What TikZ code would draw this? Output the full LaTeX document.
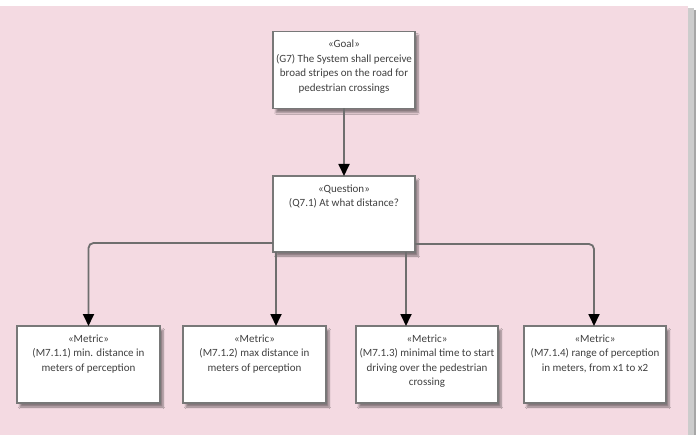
\documentclass[tikz,border=0pt]{standalone}
\usepackage{fontspec}
\setmainfont{Carlito}
\usetikzlibrary{arrows.meta,shadows.blur,calc}
\definecolor{bgpink}{RGB}{244,218,226}
\definecolor{edgegray}{RGB}{110,110,110}
\definecolor{boxgray}{RGB}{120,120,120}
\tikzset{
  box/.style={draw=boxgray, line width=1.2pt, fill=white, inner sep=0pt, outer sep=0pt,
    blur shadow={shadow xshift=3pt, shadow yshift=-4pt, shadow blur steps=6, shadow opacity=45},
    font=\fontsize{11pt}{14.5pt}\selectfont, text=black!75},
  conn/.style={draw=edgegray, line width=1.8pt, rounded corners=5pt,
    -{Triangle[length=12pt,width=11pt,color=black,fill=black]}},
}
\newcommand{\boxtext}[3]{\parbox[c][#2pt][t]{#1pt}{\centering\vspace{8.5pt}#3}}
\begin{document}
\begin{tikzpicture}[x=1pt,y=-1pt]
\useasboundingbox (0,0) rectangle (698,435);
\fill[white] (0,0) rectangle (698,435);
\fill[black!35] (691,10) rectangle (696,435);
\fill[black!20] (688,8) rectangle (694,435);
\fill[bgpink] (0,6) rectangle (688,435);

\node[box] (g) at (344,70) {\boxtext{142}{77}{«Goal»\\(G7) The System shall perceive\\broad stripes on the road for\\pedestrian crossings}};
\node[box] (q) at (344,214) {\boxtext{142}{76}{«Question»\\(Q7.1) At what distance?}};
\node[box] (m1) at (88.5,364.5) {\boxtext{143}{77}{«Metric»\\(M7.1.1) min. distance in\\meters of perception}};
\node[box] (m2) at (254.5,364.5) {\boxtext{143}{77}{«Metric»\\(M7.1.2) max distance in\\meters of perception}};
\node[box] (m3) at (427,364.5) {\boxtext{142}{77}{«Metric»\\(M7.1.3) minimal time to start\\driving over the pedestrian\\crossing}};
\node[box] (m4) at (595,364.5) {\boxtext{142}{77}{«Metric»\\(M7.1.4) range of perception\\in meters, from x1 to x2}};

\draw[conn] (g.south) -- (q.north);
\draw[conn] ([yshift=-29pt]q.west) -| (m1.north);
\coordinate (q2) at ([xshift=3pt]q.south west);
\draw[conn] (q2) -- (q2 |- m2.north);
\coordinate (q3) at ([xshift=-9pt]q.south east);
\draw[conn] (q3) -- (q3 |- m3.north);
\draw[conn] ([yshift=-30pt]q.east) -| ([xshift=-1pt]m4.north);
\end{tikzpicture}
\end{document}
